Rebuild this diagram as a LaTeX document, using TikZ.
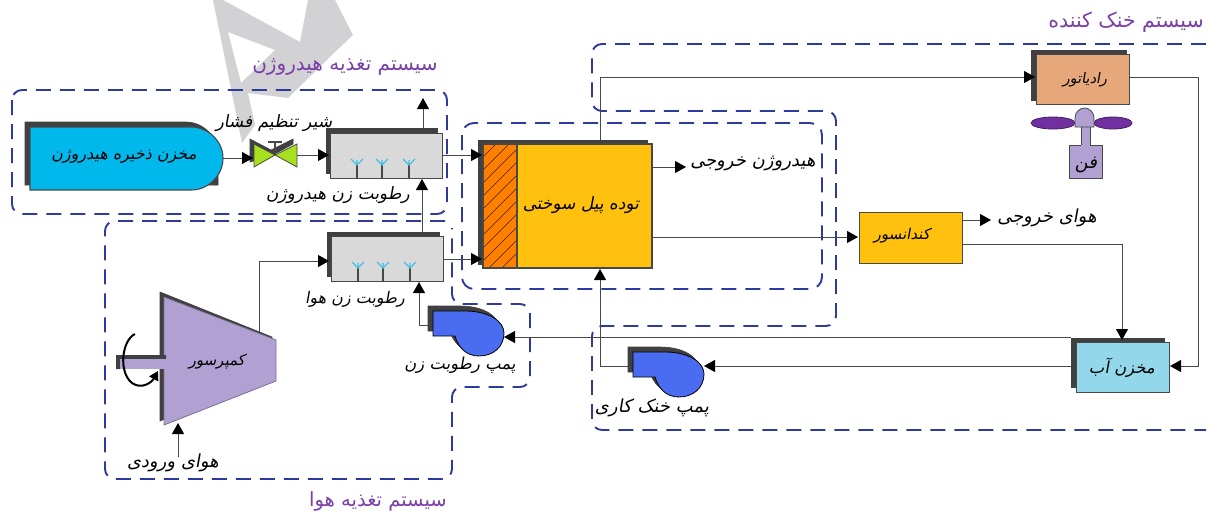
\documentclass[tikz,border=0pt]{standalone}
\usepackage{fontspec}
\usetikzlibrary{arrows.meta}
\TeXXeTstate=1
\newfontfamily\arabicfont[Script=Arabic,FakeSlant=0.18]{DejaVu Sans}
\newfontfamily\arabicup[Script=Arabic]{DejaVu Sans}
\definecolor{wm}{HTML}{D2D2D4}
\definecolor{dashblue}{HTML}{2E3A9E}
\definecolor{shadowc}{HTML}{404040}
\definecolor{linec}{HTML}{484848}
\definecolor{grayfill}{HTML}{D9D9D9}
\definecolor{tankblue}{HTML}{00B8EC}
\definecolor{valvegreen}{HTML}{A6E01E}
\definecolor{stackyellow}{HTML}{FFC10E}
\definecolor{hatchorange}{HTML}{FF8000}
\definecolor{radorange}{HTML}{E6A87A}
\definecolor{fanpurple}{HTML}{B1A0D2}
\definecolor{bladepurple}{HTML}{7030A0}
\definecolor{pumpblue}{HTML}{4A6CF0}
\definecolor{wateraqua}{HTML}{93D8EA}
\definecolor{syspurple}{HTML}{7A3FA8}
\definecolor{spraycyan}{HTML}{45BEE6}
\tikzset{
  x=1pt,y=-1pt,
  sysline/.style={draw=dashblue,line width=1.9pt,dash pattern=on 15pt off 9pt},
  conn/.style={draw=linec,line width=1pt},
  arr/.style={conn,-{Triangle[length=11pt,width=12pt,color=black]}},
  boxn/.style={draw=linec,line width=1.1pt,rectangle,inner sep=0pt,anchor=north west},
  shad/.style={fill=shadowc,draw=shadowc,line width=.6pt},
  lbl/.style={inner sep=0pt,text=black,font=\fontsize{#1}{#1}\selectfont\arabicfont},
  syslbl/.style={inner sep=0pt,text=syspurple,font=\fontsize{#1}{#1}\selectfont\arabicup},
  spray/.style={draw=spraycyan,line width=1.1pt},
  stem/.style={draw=linec,line width=1.1pt},
}
\newcommand{\pumpoutline}{(433,311) -- (465,311) .. controls (490,311) and (504,322) .. (504,333) .. controls (504,347) and (493,356) .. (479,356) .. controls (466,356) and (458,347) .. (455,336) -- (433,336) -- cycle}
\newcommand{\sprayat}[2]{\draw[stem] (#1,#2) -- (#1,#2-13);\draw[spray] (#1-6,#2-19) -- (#1,#2-13) -- (#1+6,#2-19) (#1,#2-13) -- (#1,#2-18);}
\begin{document}
\begin{tikzpicture}
\useasboundingbox (0,0) rectangle (1210,512);
\fill[white] (0,0) rectangle (1210,512);
% watermark
\fill[wm,even odd rule] (213,0) -- (242,143) -- (255,125) -- (248,93) -- (288,98) -- (335,52) -- (353,35) -- (335,0) -- (308,0) -- (300,42) -- (223,0) -- cycle
  (228,32) -- (241,83) -- (275,50) -- cycle;
% system outlines
\draw[sysline,rounded corners=10pt] (12,90) rectangle (447,214);
\draw[sysline,rounded corners=12pt] (462,123) rectangle (822,289);
\draw[sysline,rounded corners=10pt] (445,221) -- (105,221) -- (105,479) -- (452,479) -- (452,387) -- (530,387) -- (530,304) -- (452,304) -- (452,228);
\draw[sysline,rounded corners=10pt] (1206,44) -- (592,44) -- (592,111) -- (836,111) -- (836,326) -- (592,326) -- (592,430) -- (1206,430);
% shadows
\filldraw[shad] (25,122) -- (186,122) .. controls (204,122) and (218,138) .. (218,153) -- (218,185) -- (25,185) -- cycle;
\filldraw[shad] (326,128) rectangle (437,173);
\filldraw[shad] (327,232) rectangle (439,276);
\filldraw[shad] (478,140) rectangle (647,264);
\filldraw[shad] (1031,50) rectangle (1126,100);
\filldraw[shad] (1071,338) rectangle (1164,387);
\filldraw[shad] (160,292) -- (272,337) -- (272,376) -- (160,421) -- cycle;
\begin{scope}[shift={(-5,-5)}]\filldraw[shad] \pumpoutline;\end{scope}
\begin{scope}[shift={(195,36)}]\filldraw[shad] \pumpoutline;\end{scope}
% named equipment
\node[boxn,minimum width=112pt,minimum height=45pt,fill=grayfill] (hh) at (330,133) {};
\node[boxn,minimum width=112pt,minimum height=45pt,fill=grayfill] (ah) at (331,236) {};
\node[boxn,minimum width=169pt,minimum height=124pt,fill=stackyellow] (st) at (483,144) {};
\node[boxn,minimum width=103pt,minimum height=51pt,fill=stackyellow] (cd) at (859,212) {};
\node[boxn,minimum width=93pt,minimum height=50pt,fill=radorange] (rd) at (1036,54) {};
\node[boxn,minimum width=93pt,minimum height=50pt,fill=wateraqua] (wt) at (1076,342) {};
\node[boxn,minimum width=33pt,minimum height=33pt,fill=fanpurple] (fb) at (1069,145) {};
% hatch section of the stack
\fill[hatchorange] (483,144) rectangle (517,268);
\begin{scope}
\clip (483,144) rectangle (517,268);
\foreach \k in {0,...,11}{\draw[black!75!hatchorange,line width=.6pt] (480,160+\k*13) -- (520,120+\k*13);}
\end{scope}
\draw[linec,line width=1.1pt] (483,144) rectangle (652,268) (517,144) -- (517,268);
% tank
\filldraw[fill=tankblue,draw=linec,line width=1.1pt] (30,127) -- (191,127) .. controls (209,127) and (223,142) .. (223,158) .. controls (223,175) and (209,190) .. (191,190) -- (30,190) -- cycle;
\coordinate (tko) at (223,158);
% valve
\filldraw[shad] (250,139) -- (271,150) -- (293,139) -- (293,144) -- (271,156) -- (250,162) -- cycle;
\filldraw[fill=valvegreen,draw=linec,line width=.8pt] (254,144) -- (275,155) -- (254,167) -- cycle;
\filldraw[fill=valvegreen,draw=linec,line width=.8pt] (297,144) -- (275,155) -- (297,167) -- cycle;
\draw[linec,line width=1.1pt] (275,155) -- (275,142) (268,142) -- (282,142);
\coordinate (vi) at (253,158);
\coordinate (vo) at (297,155);
% sprays
\sprayat{357}{178}\sprayat{382}{178}\sprayat{409}{178}
\sprayat{358}{281}\sprayat{383}{281}\sprayat{410}{281}
% compressor
\filldraw[fill=fanpurple,draw=fanpurple!70!black,line width=.8pt] (164,297) -- (276,340) -- (276,381) -- (164,425) -- cycle;
\fill[shadowc] (116,355) rectangle (166,359) (116,355) rectangle (120,369);
\fill[fanpurple] (120,359) rectangle (168,369);
\draw[line width=2pt,-{Triangle[length=9pt,width=10pt]},black] (135,334) .. controls (122,340) and (118,372) .. (132,383) .. controls (142,390) and (152,382) .. (158,371);
% fan
\fill[fanpurple] (1081,125) rectangle (1090,146);
\draw[linec,line width=.8pt] (1081,125) -- (1081,145) (1090,125) -- (1090,145);
\filldraw[fill=bladepurple,draw=bladepurple!60!black,line width=.8pt] (1053,123) ellipse [x radius=22,y radius=6];
\filldraw[fill=bladepurple,draw=bladepurple!60!black,line width=.8pt] (1113,123) ellipse [x radius=19,y radius=6];
\filldraw[fill=fanpurple,draw=linec,line width=.8pt] (1075,127) -- (1075,118) .. controls (1075,112) and (1080,108) .. (1084.5,108) .. controls (1089,108) and (1094,112) .. (1094,118) -- (1094,127) -- cycle;
% pumps
\begin{scope}\filldraw[fill=pumpblue,draw=black,line width=.8pt] \pumpoutline;\end{scope}
\begin{scope}[shift={(200,41)}]\filldraw[fill=pumpblue,draw=black,line width=.8pt] \pumpoutline;\end{scope}
% ports
\coordinate (hpi) at (504,337);
\coordinate (cpi) at (704,366);
\coordinate (hpo) at (428,325);
\coordinate (cpo) at (628,366);
\coordinate (cmo) at (259,332);
\coordinate (cmi) at (178,423);
\coordinate (airin) at (178,457);
\coordinate (hhout) at (423,98);
\coordinate (h2end) at (686,167);
\coordinate (airend) at (991,220);
\coordinate (wtt) at (1122,340);
% connectors
\draw[arr] (tko) -- (vi);
\draw[arr] (vo) -- (329,155);
\draw[arr] (442,155) -- (482,155);
\draw[arr] (443,259) -- (482,259);
\draw[arr] (423,128) -- (hhout);
\draw[arr] (422,232) -- (422,179);
\draw[arr] (cmo) -- (259,261) -- (329,261);
\draw[arr] (hpo) -- (419,325) -- (419,282);
\draw[arr] (1071,337) -- (hpi);
\draw[arr] (1071,366) -- (cpi);
\draw[arr] (cpo) -- (600,366) -- (600,269);
\draw[arr] (600,140) -- (600,77) -- (1035,77);
\draw[arr] (1129,77) -- (1198,77) -- (1198,366) -- (1170,366);
\draw[arr] (652,167) -- (h2end);
\draw[arr] (652,237) -- (858,237);
\draw[arr] (962,220) -- (airend);
\draw[arr] (962,244) -- (1122,244) -- (wtt);
\draw[arr] (airin) -- (cmi);
% labels
\node[syslbl=20] (lh) at (345,67) {\beginR سیستم تغذیه هیدروژن\endR};
\node[syslbl=19.5] (la) at (378,501) {\beginR سیستم تغذیه هوا\endR};
\node[syslbl=20.5] (lc) at (1126,22) {\beginR سیستم خنک کننده\endR};
\node[lbl=16] (t1) at (124,157) {\beginR مخزن ذخیره هیدروژن\endR};
\node[lbl=17] (t2) at (274,123) {\beginR شیر تنظیم فشار\endR};
\node[lbl=17] (t3) at (338,195) {\beginR رطوبت زن هیدروژن\endR};
\node[lbl=16] (t4) at (355,299) {\beginR رطوبت زن هوا\endR};
\node[lbl=17] (t5) at (581,205) {\beginR توده پیل سوختی\endR};
\node[lbl=18] (t6) at (753,163) {\beginR هیدروژن خروجی\endR};
\node[lbl=15] (t7) at (902,236) {\beginR کندانسور\endR};
\node[lbl=18] (t8) at (1047,218) {\beginR هوای خروجی\endR};
\node[lbl=14.5] (t9) at (1085,80) {\beginR رادیاتور\endR};
\node[lbl=18] (t10) at (1086,165) {\beginR فن\endR};
\node[lbl=16.5] (t11) at (1122,368) {\beginR مخزن آب\endR};
\node[lbl=18] (t12) at (652,408) {\beginR پمپ خنک کاری\endR};
\node[lbl=16.5] (t13) at (460,365) {\beginR پمپ رطوبت زن\endR};
\node[lbl=15] (t14) at (217,362) {\beginR کمپرسور\endR};
\node[lbl=18] (t15) at (173,463) {\beginR هوای ورودی\endR};
\end{tikzpicture}
\end{document}
